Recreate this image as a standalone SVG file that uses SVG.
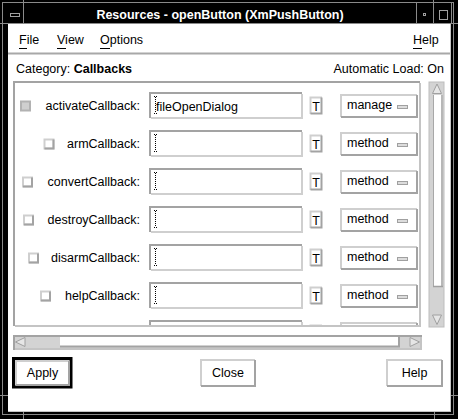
<svg xmlns="http://www.w3.org/2000/svg" width="458" height="419" viewBox="0 0 458 419">
<style>
text{font-family:"Liberation Sans",Arial,Helvetica,sans-serif;font-size:12.5px;fill:#000}
.b{font-weight:bold}
.w{fill:#fff}
.dk2{fill:none;stroke:#a3a3a3;stroke-width:2}
.lt2{fill:none;stroke:#cfcfcf;stroke-width:2}
.fr{fill:none;stroke:#8a8a8a;stroke-width:1}
.ic{fill:none;stroke:#a0a0a0;stroke-width:1}
</style>
<defs>
<clipPath id="listClip"><rect x="15" y="83" width="405" height="242"/></clipPath>
<g id="field">
<rect x="149" y="92" width="154" height="27" fill="#fff"/>
<path d="M150,118 V93 H302" class="dk2"/>
<path d="M151,118 H302 V94" class="lt2"/>
</g>
<g id="tbtn">
<rect x="309.5" y="96.5" width="13" height="18" fill="#fff"/>
<path d="M310.5,114 V97.5 H322" class="lt2"/>
<path d="M310.5,113.5 H321.5 V97.5" class="dk2"/>
<text x="316" y="110.5" text-anchor="middle">T</text>
</g>
<g id="opt">
<rect x="340" y="94" width="78" height="24" fill="#fff"/>
<path d="M341,117 V95 H417" class="lt2"/>
<path d="M341,117 H417 V95" class="dk2"/>
<rect x="397.5" y="105.5" width="10" height="3" fill="#dcdcdc" stroke="#a0a0a0"/>
</g>
<g id="cursor">
<path d="M155.5,97 V113" stroke="#000" stroke-dasharray="1 1" fill="none"/>
<path d="M154,96.5 h1 M156,96.5 h1 M154,113.5 h1 M156,113.5 h1" stroke="#000" fill="none"/>
</g>
<g id="cb">
<rect x="1" y="1" width="9" height="9" fill="#fff" stroke="#cfcfcf" stroke-width="2"/>
<path d="M1,10 H10 V1" class="dk2"/>
</g>
</defs>

<g id="window-frame">
<rect width="458" height="419" fill="#000"/>
<rect x="2.5" y="2.5" width="451" height="412" class="fr"/>
<path d="M23.5,0 V24 M433.5,0 V24 M23.5,412 V419 M434.5,412 V419 M0,23.5 H8 M0,395.5 H8 M450,23.5 H458 M450,395.5 H458" class="fr"/>
</g>

<g id="title-bar">
<path d="M2,23.5 H453 M416.5,2 V23 M433.5,2 V23 M451.5,2 V23" class="fr"/>
<rect x="10.5" y="13.5" width="9" height="3" class="ic"/>
<rect x="423.5" y="13.5" width="2" height="2" class="ic"/>
<rect x="439.5" y="10.5" width="8" height="9" class="ic"/>
<text x="220" y="18.5" text-anchor="middle" class="b w">Resources - openButton (XmPushButton)</text>
</g>

<g id="content">
<rect x="8" y="24" width="442" height="388" fill="#fff"/>
<path d="M450.5,24 V412 M8,411.5 H451" fill="none" stroke="#c4c4c4"/>
</g>

<g id="menubar">
<path d="M8,53.5 H450" fill="none" stroke="#a8a8a8" stroke-width="2"/>
<text x="19" y="44">File</text>
<text x="57" y="44">View</text>
<text x="100" y="44">Options</text>
<text x="413" y="44">Help</text>
<path d="M19,48.5 H27 M57,48.5 H66 M100,48.5 H110 M413,48.5 H422" stroke="#000" fill="none"/>
</g>

<g id="category">
<text x="16" y="73">Category: <tspan class="b">Callbacks</tspan></text>
<text x="444" y="73" text-anchor="end">Automatic Load: On</text>
</g>

<g id="list-frame">
<path d="M14,326 V82 H420" class="dk2"/>
<path d="M15,326 H420 V83" fill="none" stroke="#c4c4c4" stroke-width="2"/>
</g>

<g id="list" clip-path="url(#listClip)">
<g id="row-activate">
<rect x="21" y="101.5" width="9" height="9" fill="#cfcfcf" stroke="#b2b2b2" stroke-width="2"/>
<text x="140" y="110" text-anchor="end">activateCallback:</text>
<use href="#field"/>
<text x="156" y="111">fileOpenDialog</text>
<use href="#cursor"/>
<use href="#tbtn"/>
<use href="#opt"/>
<text x="347" y="109">manage</text>
</g>
<g id="row-arm" transform="translate(0,38)">
<use href="#cb" x="43.5" y="100.5"/>
<text x="140" y="110" text-anchor="end">armCallback:</text>
<use href="#field"/><use href="#cursor"/><use href="#tbtn"/><use href="#opt"/>
<text x="347" y="109">method</text>
</g>
<g id="row-convert" transform="translate(0,76)">
<use href="#cb" x="22" y="100.5"/>
<text x="140" y="110" text-anchor="end">convertCallback:</text>
<use href="#field"/><use href="#cursor"/><use href="#tbtn"/><use href="#opt"/>
<text x="347" y="109">method</text>
</g>
<g id="row-destroy" transform="translate(0,114)">
<use href="#cb" x="23" y="100.5"/>
<text x="140" y="110" text-anchor="end">destroyCallback:</text>
<use href="#field"/><use href="#cursor"/><use href="#tbtn"/><use href="#opt"/>
<text x="347" y="109">method</text>
</g>
<g id="row-disarm" transform="translate(0,152)">
<use href="#cb" x="28" y="100.5"/>
<text x="140" y="110" text-anchor="end">disarmCallback:</text>
<use href="#field"/><use href="#cursor"/><use href="#tbtn"/><use href="#opt"/>
<text x="347" y="109">method</text>
</g>
<g id="row-help" transform="translate(0,190)">
<use href="#cb" x="40" y="100.5"/>
<text x="140" y="110" text-anchor="end">helpCallback:</text>
<use href="#field"/><use href="#cursor"/><use href="#tbtn"/><use href="#opt"/>
<text x="347" y="109">method</text>
</g>
<g id="row-partial" transform="translate(0,228)">
<use href="#field"/><use href="#tbtn"/><use href="#opt"/>
</g>
</g>

<g id="vscrollbar">
<rect x="429" y="82" width="15" height="245" fill="#d3d3d3" stroke="#bdbdbd" stroke-width="1"/>
<polygon points="437,84 432.5,93.5 441.5,93.5" fill="#e6e6e6" stroke="#a0a0a0"/>
<rect x="433" y="95" width="10" height="192" fill="#fff"/>
<path d="M433.5,95 V287" fill="none" stroke="#a8a8a8"/>
<path d="M442,95 V287 M433,286.5 H443" fill="none" stroke="#a0a0a0" stroke-width="1.5"/>
<polygon points="432.5,315 441.5,315 437,324.5" fill="#e6e6e6" stroke="#a0a0a0"/>
</g>

<g id="hscrollbar">
<rect x="13" y="335" width="409" height="15" fill="#d3d3d3"/>
<path d="M14,350 V336 H422" class="dk2"/>
<path d="M15,349 H421 V337" fill="none" stroke="#c4c4c4" stroke-width="2"/>
<rect x="60" y="337" width="340" height="10" fill="#fff"/>
<path d="M60,346.5 H400 M399,337 V347" fill="none" stroke="#a3a3a3" stroke-width="2"/>
<polygon points="15.5,342 25,337.5 25,346.5" fill="#e6e6e6" stroke="#a0a0a0"/>
<polygon points="410,337.5 419.5,342 410,346.5" fill="#e6e6e6" stroke="#a0a0a0"/>
</g>

<g id="btn-apply">
<rect x="13.5" y="358.5" width="57.5" height="28.5" fill="#fff" stroke="#000" stroke-width="3"/>
<path d="M16,385 V361 H69" class="lt2"/>
<path d="M16,385 H69 V361" class="dk2"/>
<text x="42.5" y="377" text-anchor="middle">Apply</text>
</g>
<g id="btn-close">
<rect x="200" y="359" width="56" height="28" fill="#fff"/>
<path d="M201,386 V360 H255" class="lt2"/>
<path d="M201,386 H255 V360" class="dk2"/>
<text x="228" y="377" text-anchor="middle">Close</text>
</g>
<g id="btn-help">
<rect x="386" y="359" width="57" height="28" fill="#fff"/>
<path d="M387,386 V360 H442" class="lt2"/>
<path d="M387,386 H442 V360" class="dk2"/>
<text x="414.5" y="377" text-anchor="middle">Help</text>
</g>
</svg>
